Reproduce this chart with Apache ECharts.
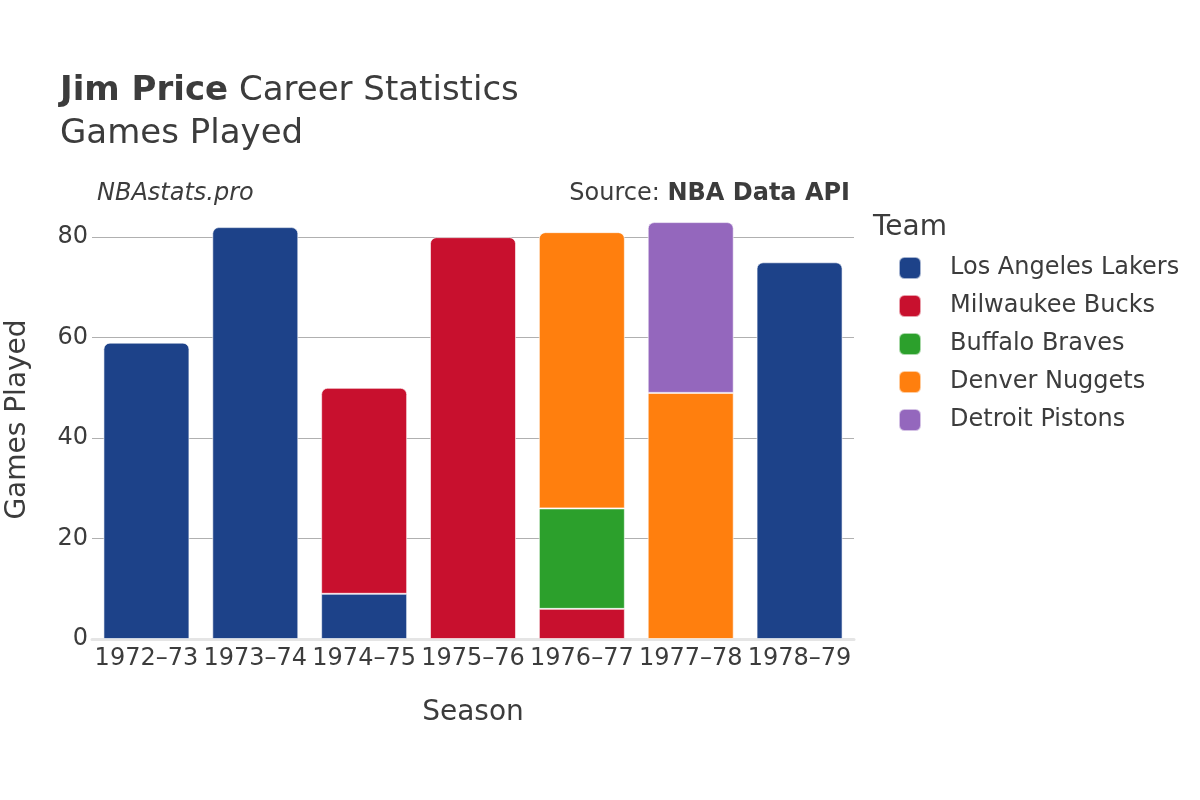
<!DOCTYPE html>
<html>
<head>
<meta charset="utf-8">
<script src="https://cdn.jsdelivr.net/npm/echarts@6/dist/echarts.min.js"></script>
<style>
  html, body { margin: 0; padding: 0; background: #fff; }
  #chart { width: 1200px; height: 800px; }
</style>
</head>
<body>
<div id="chart"></div>
<script>
// seasons on the x axis
var seasons = ['1972\u201373', '1973\u201374', '1974\u201375', '1975\u201376', '1976\u201377', '1977\u201378', '1978\u201379'];

// games played per team (null = did not play there that season)
var teams = ['Los Angeles Lakers', 'Milwaukee Bucks', 'Buffalo Braves', 'Denver Nuggets', 'Detroit Pistons'];
var lakers  = [59, 82, 9, null, null, null, 75];
var bucks   = [null, null, 41, 80, 6, null, null];
var braves  = [null, null, null, null, 20, null, null];
var nuggets = [null, null, null, null, 55, 49, null];
var pistons = [null, null, null, null, null, 34, null];
var teamColors = ['#1d4289', '#c8102e', '#2ca02c', '#ff7f0e', '#9467bd'];

var yTicks = [0, 20, 40, 60, 80];

var font = 'DejaVu Sans';
var textColor = '#3c3c3c';

var allData = [lakers, bucks, braves, nuggets, pistons];

// which series is on top for each season -> gets rounded corners
var topIdx = seasons.map(function (s, i) {
    var top = -1;
    allData.forEach(function (arr, k) { if (arr[i] != null) top = k; });
    return top;
});

var series = teams.map(function (name, k) {
    return {
        name: name,
        type: 'bar',
        stack: 'total',
        barCategoryGap: '21%',
        itemStyle: {
            color: teamColors[k],
            borderColor: 'rgba(255,255,255,0.6)',
            borderWidth: 1
        },
        data: allData[k].map(function (v, i) {
            if (v == null) return null;
            return {
                value: v,
                itemStyle: { borderRadius: topIdx[i] === k ? [6, 6, 0, 0] : 0 }
            };
        })
    };
});

var dom = document.getElementById('chart');
var myChart = echarts.init(dom, null, { renderer: 'canvas' });

var option = {
    backgroundColor: '#fff',
    textStyle: { fontFamily: font, color: textColor },
    animation: false,
    title: [
        {
            text: '{b|Jim Price} Career Statistics',
            left: 55, top: 69,
            textStyle: {
                fontFamily: font, fontSize: 34, fontWeight: 'normal', color: textColor,
                rich: { b: { fontFamily: font, fontSize: 34, fontWeight: 'bold', color: textColor } }
            }
        },
        {
            text: 'Games Played',
            left: 55, top: 112,
            textStyle: { fontFamily: font, fontSize: 34, fontWeight: 'normal', color: textColor }
        },
        {
            text: 'NBAstats.pro',
            left: 92, top: 177,
            textStyle: { fontFamily: font, fontSize: 24, fontStyle: 'italic', fontWeight: 'normal', color: textColor }
        },
        {
            text: 'Source: {b|NBA Data API}',
            right: 345, top: 177,
            textStyle: {
                fontFamily: font, fontSize: 24, fontWeight: 'normal', color: textColor,
                rich: { b: { fontFamily: font, fontSize: 24, fontWeight: 'bold', color: textColor } }
            }
        },
        {
            text: 'Team',
            left: 868, top: 209,
            textStyle: { fontFamily: font, fontSize: 28, fontWeight: 'normal', color: textColor }
        }
    ],
    legend: {
        orient: 'vertical',
        left: 893,
        top: 251,
        icon: 'roundRect',
        itemWidth: 22,
        itemHeight: 22,
        itemGap: 14,
        data: teams,
        textStyle: { fontFamily: font, fontSize: 24, color: textColor, padding: [0, 0, 0, 24] }
    },
    grid: { left: 92, right: 346, top: 200, bottom: 161, containLabel: false, outerBoundsMode: 'none' },
    xAxis: {
        type: 'category',
        data: seasons,
        name: 'Season',
        nameLocation: 'middle',
        nameGap: 60,
        nameTextStyle: { fontFamily: font, fontSize: 28, color: textColor },
        axisLine: { show: true, lineStyle: { color: '#e5e5e5', width: 3 } },
        axisTick: { show: false },
        axisLabel: { fontFamily: font, fontSize: 24, color: textColor, margin: 8, interval: 0 }
    },
    yAxis: {
        type: 'value',
        min: 0,
        max: 87.4,
        interval: 20,
        name: 'Games Played',
        nameLocation: 'middle',
        nameGap: 60,
        nameTextStyle: { fontFamily: font, fontSize: 28, color: textColor },
        axisLine: { show: false },
        axisTick: { show: false },
        axisLabel: {
            fontFamily: font, fontSize: 24, color: textColor, margin: 4,
            showMaxLabel: false,
            formatter: function (v) { return yTicks.indexOf(v) >= 0 ? String(v) : ''; }
        },
        splitLine: { show: true, showMaxLine: false, lineStyle: { color: '#b0b0b0', width: 1 } }
    },
    series: series
};

myChart.setOption(option, true);
</script>
</body>
</html>
